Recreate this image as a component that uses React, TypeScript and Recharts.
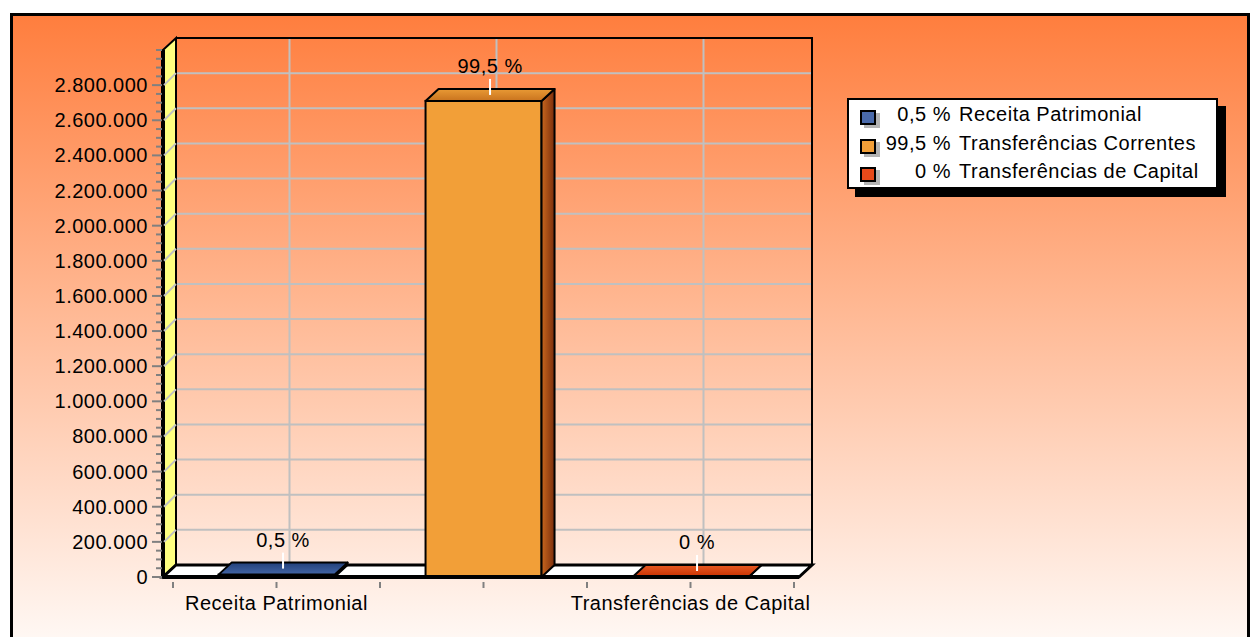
import React from "react";
import { Bar, BarChart, CartesianGrid, XAxis, YAxis } from "recharts";

const categories = ["Receita Patrimonial", "Transferências Correntes", "Transferências de Capital"];
const values = [13600, 2710000, 0];
const percents = ["0,5 %", "99,5 %", "0 %"];
const xTickLabels = ["Receita Patrimonial", "", "Transferências de Capital"];
const majorTicks = [0, 200000, 400000, 600000, 800000, 1000000, 1200000, 1400000, 1600000, 1800000, 2000000, 2200000, 2400000, 2600000, 2800000];
const minorStep = 50000;
const yMax = 3000000;

const frontColors = ["#4A6AAA", "#F29F38", "#E84A1A"];
const topColors = [["#22407A", "#4466A6"], ["#E99A35", "#C9731E"], ["#E85A24", "#C83000"]];
const sideColors = [["#2A4680", "#10224A"], ["#C9671E", "#7B2E0C"], ["#B83010", "#701800"]];

const data = categories.map((name, i) => ({ name, value: values[i], pct: percents[i] }));
const yTicks = Array.from({ length: yMax / minorStep + 1 }, (_, i) => i * minorStep);

// layout
const W = 1252;
const H = 637;
const LEFT = 163;
const RIGHT = 799;
const TOP = 50;
const BOTTOM = 577;
const DX = 13;
const DY = 12;
const PAD = { left: 10, right: 5 };
const BAND = (RIGHT - LEFT - PAD.left - PAD.right) / categories.length;
const FONT = '"Liberation Sans", Arial, sans-serif';
const LS = 0.5;

const fmt = (v: number) => v.toString().replace(/\B(?=(\d{3})+(?!\d))/g, ".");

const YTick = (props: any) => {
  const { x, y, payload } = props;
  const v = payload.value;
  const major = majorTicks.includes(v);
  return (
    <g>
      <line x1={x - (major ? 11 : 7)} x2={x - 1} y1={y} y2={y} stroke="#808080" strokeWidth={2} />
      {major && v > 0 && (
        <line x1={x + 1} y1={y} x2={x + DX} y2={y - DY} stroke="#C0C0C0" strokeWidth={2} />
      )}
      {major && (
        <text x={x - 15} y={y} dy={7} textAnchor="end" fontSize={20} fontFamily={FONT} fill="#000" letterSpacing={LS}>
          {fmt(v)}
        </text>
      )}
    </g>
  );
};

const XTick = (props: any) => {
  const { x, y, index } = props;
  const h = BAND / 2;
  const label = xTickLabels[index];
  return (
    <g>
      {[x - h, x, x + h].map((tx, i) => (
        <line key={i} x1={tx} x2={tx} y1={y + 5} y2={y + 11} stroke="#808080" strokeWidth={2} />
      ))}
      {label && (
        <text x={x} y={y + 33} textAnchor="middle" fontSize={20} fontFamily={FONT} fill="#000" letterSpacing={LS}>
          {label}
        </text>
      )}
    </g>
  );
};

const Bar3D = (props: any) => {
  const { x, y, width, height, index, payload } = props;
  const w = width;
  const h = Math.max(height || 0, 0);
  const top = `${x},${y} ${x + DX},${y - DY} ${x + w + DX},${y - DY} ${x + w},${y}`;
  const side = `${x + w},${y} ${x + w + DX},${y - DY} ${x + w + DX},${y + h - DY} ${x + w},${y + h}`;
  const cx = x + w / 2 + DX / 2;
  const cy = y - DY / 2;
  return (
    <g>
      {h > 0 && <rect x={x} y={y} width={w} height={h} fill={frontColors[index]} stroke="#000" strokeWidth={2} />}
      <polygon points={side} fill={`url(#side${index})`} stroke="#000" strokeWidth={2} strokeLinejoin="round" />
      <polygon points={top} fill={`url(#top${index})`} stroke="#000" strokeWidth={2} strokeLinejoin="round" />
      <line x1={cx} x2={cx} y1={cy - 16} y2={cy} stroke="#fff" strokeWidth={2} />
      <text x={cx} y={cy - 22} textAnchor="middle" fontSize={20} fontFamily={FONT} fill="#000" letterSpacing={LS}>
        {payload.pct}
      </text>
    </g>
  );
};

const Legend3 = () => (
  <div
    style={{
      position: "absolute",
      left: 847,
      top: 98,
      width: 367,
      height: 87,
      border: "2px solid #000",
      background: "#fff",
      boxShadow: "8px 8px 0 #000",
      fontFamily: FONT,
      fontSize: 20,
      letterSpacing: LS,
    }}
  >
    {categories.map((name, i) => (
      <div key={name} style={{ position: "absolute", left: 0, top: 2 + i * 28.5, height: 28, width: "100%" }}>
        <div
          style={{
            position: "absolute",
            left: 11,
            top: 8,
            width: 12,
            height: 11,
            border: "2px solid #000",
            background: frontColors[i],
            boxShadow: "4px 3px 0 #B4B4B4",
          }}
        />
        <span style={{ position: "absolute", right: 265, top: 1, whiteSpace: "nowrap" }}>{percents[i]}</span>
        <span style={{ position: "absolute", left: 110, top: 1, whiteSpace: "nowrap" }}>{name}</span>
      </div>
    ))}
  </div>
);

const margin = { top: TOP, right: W - RIGHT, bottom: 0, left: 0 };
const blank = () => "";

export default function App() {
  return (
    <div style={{ position: "absolute", left: 0, top: 0, width: W, height: H, overflow: "hidden", fontFamily: FONT }}>
      <div
        style={{
          position: "absolute",
          left: 10,
          top: 13,
          width: 1234,
          height: 624,
          border: "3px solid #000",
          background: "linear-gradient(to bottom, #FF7E3E 0%, #FFB690 45%, #FFF8F4 100%)",
        }}
      />
      {/* back wall grid */}
      <div style={{ position: "absolute", left: DX, top: -DY }}>
        <BarChart width={W} height={H} data={data} margin={margin} barCategoryGap="22%">
          <CartesianGrid stroke="#C0C0C0" strokeWidth={2} fill="none" />
          <XAxis
            dataKey="name"
            height={H - BOTTOM}
            padding={PAD}
            tickFormatter={blank}
            axisLine={false}
            tickLine={false}
            interval={0}
          />
          <YAxis
            width={LEFT}
            domain={[0, yMax]}
            ticks={majorTicks}
            tickFormatter={blank}
            axisLine={false}
            tickLine={false}
            interval={0}
          />
          <Bar dataKey="value" fill="none" isAnimationActive={false} />
        </BarChart>
      </div>
      {/* walls and floor */}
      <svg width={W} height={H} style={{ position: "absolute", left: 0, top: 0 }}>
        <polygon
          points={`${LEFT},${TOP} ${LEFT + DX},${TOP - DY} ${LEFT + DX},${BOTTOM - DY} ${LEFT},${BOTTOM}`}
          fill="#FFFF80"
          stroke="#000"
          strokeWidth={2}
        />
        <polyline
          points={`${LEFT + DX},${TOP - DY} ${RIGHT + DX},${TOP - DY} ${RIGHT + DX},${BOTTOM - DY}`}
          fill="none"
          stroke="#000"
          strokeWidth={2}
        />
        <polygon
          points={`${LEFT},${BOTTOM} ${RIGHT},${BOTTOM} ${RIGHT + DX},${BOTTOM - DY} ${LEFT + DX},${BOTTOM - DY}`}
          fill="#fff"
          stroke="#000"
          strokeWidth={3}
        />
      </svg>
      {/* front: axes and bars */}
      <div style={{ position: "absolute", left: 0, top: 0 }}>
        <BarChart width={W} height={H} data={data} margin={margin} barCategoryGap="22%">
          <defs>
            {topColors.map((c, i) => (
              <linearGradient key={`t${i}`} id={`top${i}`} x1="0" y1="0" x2="0" y2="1">
                <stop offset="0%" stopColor={c[0]} />
                <stop offset="100%" stopColor={c[1]} />
              </linearGradient>
            ))}
            {sideColors.map((c, i) => (
              <linearGradient key={`s${i}`} id={`side${i}`} x1="0" y1="0" x2="1" y2="0">
                <stop offset="0%" stopColor={c[0]} />
                <stop offset="100%" stopColor={c[1]} />
              </linearGradient>
            ))}
          </defs>
          <XAxis
            dataKey="name"
            height={H - BOTTOM}
            padding={PAD}
            tick={<XTick />}
            tickSize={0}
            tickMargin={0}
            tickLine={false}
            axisLine={{ stroke: "#000", strokeWidth: 4 }}
            interval={0}
          />
          <YAxis
            width={LEFT}
            domain={[0, yMax]}
            ticks={yTicks}
            tick={<YTick />}
            tickSize={0}
            tickMargin={0}
            tickLine={false}
            axisLine={{ stroke: "#000", strokeWidth: 4 }}
            interval={0}
          />
          <Bar dataKey="value" shape={<Bar3D />} isAnimationActive={false} />
        </BarChart>
      </div>
      <Legend3 />
    </div>
  );
}
